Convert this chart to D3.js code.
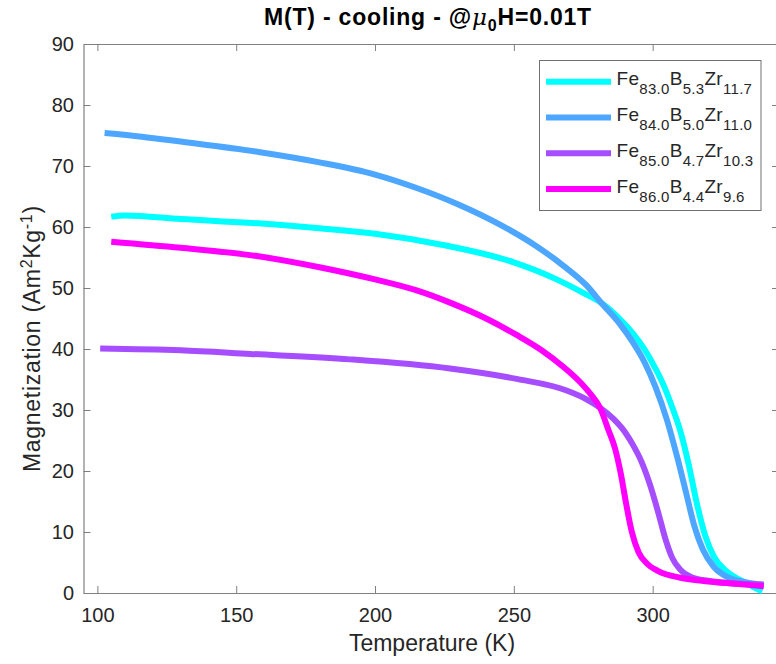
<!DOCTYPE html>
<html>
<head>
<meta charset="utf-8">
<script src="https://cdn.jsdelivr.net/npm/d3@7"></script>
<style>
  body { margin: 0; background: #fff; }
  svg { font-family: "Liberation Sans", Arial, Helvetica, sans-serif; }
</style>
</head>
<body>
<div id="chart"></div>
<script>
const tFe83 = [105, 110, 130, 158, 180, 200, 225, 250, 265, 275, 282, 288, 293, 297, 301, 304, 307, 310, 313, 316, 319, 322, 326, 330, 334, 337, 339.5];
const mFe83 = [61.7, 61.9, 61.3, 60.6, 59.8, 58.9, 57.0, 54.2, 51.5, 49.2, 47.4, 45.0, 42.5, 40.0, 36.8, 34.0, 30.5, 26.5, 21.0, 14.5, 9.3, 6.0, 3.8, 2.5, 1.6, 0.8, 0.3];

const tFe84 = [102.6, 116, 130, 158, 180, 200, 215, 230, 245, 258, 268, 276, 282, 288, 293, 297, 301, 305, 309, 312, 315, 318, 322, 327, 333, 340];
const mFe84 = [75.4, 74.8, 74.0, 72.3, 70.6, 68.6, 66.4, 63.7, 60.4, 56.9, 53.6, 50.5, 47.3, 44.2, 41.0, 37.9, 33.8, 28.6, 22.0, 16.5, 11.0, 7.2, 4.3, 2.6, 1.8, 1.3];

const tFe85 = [101, 130, 155, 191, 227, 251, 269, 276, 281, 286, 290, 293, 296, 299, 302, 304.5, 307, 310, 314, 320, 328, 340];
const mFe85 = [40.1, 39.8, 39.2, 38.3, 36.8, 35.1, 33.2, 31.8, 30.4, 28.5, 26.4, 24.2, 21.5, 17.8, 13.2, 9.0, 5.8, 3.8, 2.6, 2.0, 1.6, 1.4];

const tFe86 = [105, 130, 158, 180, 200, 215, 227, 240, 251, 260, 268, 274, 278, 281, 284, 286.5, 288.5, 290.5, 292.5, 295, 298, 302, 310, 320, 330, 340];
const mFe86 = [57.6, 56.6, 55.2, 53.4, 51.4, 49.6, 47.6, 45.0, 42.3, 39.8, 37.0, 34.5, 32.4, 30.4, 26.8, 23.6, 19.6, 14.5, 10.0, 6.6, 4.8, 3.6, 2.5, 1.9, 1.5, 1.1];

// legend labels as [element, subscript] pairs
const names = [
  [["Fe", "83.0"], ["B", "5.3"], ["Zr", "11.7"]],
  [["Fe", "84.0"], ["B", "5.0"], ["Zr", "11.0"]],
  [["Fe", "85.0"], ["B", "4.7"], ["Zr", "10.3"]],
  [["Fe", "86.0"], ["B", "4.4"], ["Zr", "9.6"]]
];
const colors = ["#00ffff", "#4da6ff", "#a64dff", "#ff00ff"];
const xTicks = [100, 150, 200, 250, 300];
const yTicks = [0, 10, 20, 30, 40, 50, 60, 70, 80, 90];

const series = [
  {t: tFe83, m: mFe83},
  {t: tFe84, m: mFe84},
  {t: tFe85, m: mFe85},
  {t: tFe86, m: mFe86}
];

const W = 776, H = 664;
const margin = {top: 44, right: -3, bottom: 71, left: 83.5};
const width = W - margin.left - margin.right,
      height = H - margin.top - margin.bottom;

const svg = d3.select("#chart")
  .append("svg")
    .attr("width", W)
    .attr("height", H);

const g = svg.append("g")
    .attr("transform", `translate(${margin.left},${margin.top})`);

const x = d3.scaleLinear().domain([95, 345.5]).range([0, width]);
const y = d3.scaleLinear().domain([0, 90]).range([height, 0]);

const axisCol = "#808080", textCol = "#262626";

// axes (ticks inward, box on)
const xb = g.append("g")
  .attr("transform", `translate(0,${height})`)
  .call(d3.axisBottom(x).tickValues(xTicks).tickSizeInner(-7).tickSizeOuter(0).tickPadding(15));
const yl = g.append("g")
  .call(d3.axisLeft(y).tickValues(yTicks).tickSizeInner(-7).tickSizeOuter(0).tickPadding(9.5));
const xt = g.append("g")
  .call(d3.axisTop(x).tickValues(xTicks).tickSizeInner(-7).tickSizeOuter(0).tickFormat(""));
const yr = g.append("g")
  .attr("transform", `translate(${width},0)`)
  .call(d3.axisRight(y).tickValues(yTicks).tickSizeInner(-7).tickSizeOuter(0).tickFormat(""));

[xb, yl, xt, yr].forEach(a => {
  a.select(".domain").attr("stroke", axisCol).attr("stroke-width", 1.2);
  a.selectAll(".tick line").attr("stroke", axisCol).attr("stroke-width", 1);
  a.selectAll(".tick text").attr("fill", textCol).style("font-size", "20px");
});

// curves
const line = d3.line()
  .x(d => x(d[0]))
  .y(d => y(d[1]))
  .curve(d3.curveMonotoneX);

g.selectAll(".curve")
  .data(series)
  .join("path")
    .attr("class", "curve")
    .attr("fill", "none")
    .attr("stroke", (d, i) => colors[i])
    .attr("stroke-width", 6)
    .attr("stroke-linejoin", "round")
    .attr("d", d => line(d.t.map((t, i) => [t, d.m[i]])));

// legend
const lg = svg.append("g");
lg.append("rect")
  .attr("x", 539.5).attr("y", 60.5)
  .attr("width", 221.5).attr("height", 150)
  .attr("fill", "#fff")
  .attr("stroke", "#707070")
  .attr("stroke-width", 1);

names.forEach((parts, i) => {
  const cy = 81.7 + i * 35.8;
  lg.append("line")
    .attr("x1", 546).attr("x2", 611)
    .attr("y1", cy).attr("y2", cy)
    .attr("stroke", colors[i])
    .attr("stroke-width", 6);
  const txt = lg.append("text")
    .attr("x", 616.5)
    .attr("y", cy + 3.5)
    .attr("fill", textCol)
    .style("font-size", "19px")
    .style("letter-spacing", "0.3px");
  parts.forEach((p, k) => {
    txt.append("tspan").attr("dy", k === 0 ? 0 : -9).text(p[0]);
    txt.append("tspan").attr("dy", 9).style("font-size", "15px").text(p[1]);
  });
});

// title
const title = svg.append("text")
  .attr("x", 428)
  .attr("y", 25)
  .attr("text-anchor", "middle")
  .attr("fill", "#000")
  .style("font-size", "23px")
  .style("font-weight", "bold")
  .style("letter-spacing", "0.8px");
title.append("tspan").text("M(T) - cooling - @");
title.append("tspan")
  .style("font-family", "'DejaVu Serif', 'Liberation Serif', serif")
  .style("font-style", "italic")
  .style("font-weight", "normal")
  .text("\u03bc");
title.append("tspan").attr("dy", 6).style("font-size", "16px").text("0");
title.append("tspan").attr("dy", -6).text("H=0.01T");

// x axis label
svg.append("text")
  .attr("x", 432)
  .attr("y", 651)
  .attr("text-anchor", "middle")
  .attr("fill", textCol)
  .style("font-size", "23px")
  .text("Temperature (K)");

// y axis label
const yLab = svg.append("text")
  .attr("transform", "translate(40,472) rotate(-90)")
  .attr("text-anchor", "start")
  .attr("fill", textCol)
  .style("font-size", "23px")
  .style("letter-spacing", "0.7px");
yLab.append("tspan").text("Magnetization (Am");
yLab.append("tspan").attr("dy", -8).style("font-size", "16px").text("2");
yLab.append("tspan").attr("dy", 8).text("Kg");
yLab.append("tspan").attr("dy", -8).style("font-size", "16px").text("-1");
yLab.append("tspan").attr("dy", 8).text(")");
</script>
</body>
</html>
